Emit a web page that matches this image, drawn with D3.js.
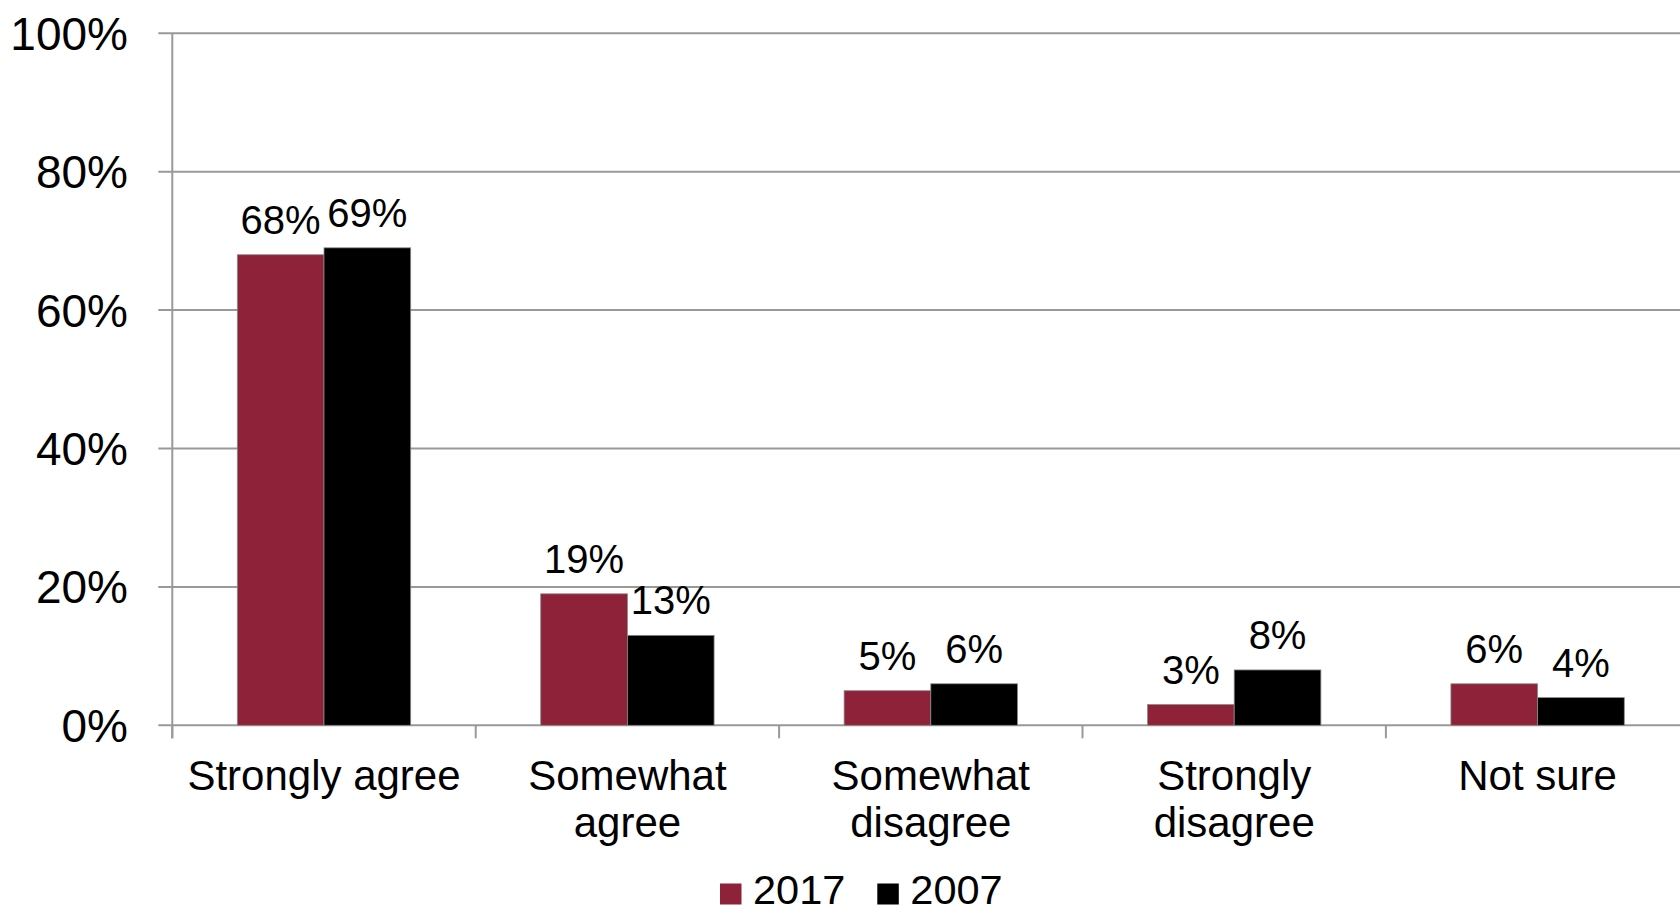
<!DOCTYPE html>
<html>
<head>
<meta charset="utf-8">
<script src="https://cdn.jsdelivr.net/npm/d3@7"></script>
<style>
  html, body { margin: 0; padding: 0; background: #fff; overflow: hidden; }
  svg { display: block; font-family: "Liberation Sans", Arial, sans-serif; }
</style>
</head>
<body>
<svg id="chart" width="1680" height="913"></svg>
<script>
// Survey responses, share of respondents per answer
const categories = [
  ["Strongly agree"],
  ["Somewhat", "agree"],
  ["Somewhat", "disagree"],
  ["Strongly", "disagree"],
  ["Not sure"]
];
const seriesNames = ["2017", "2007"];
const values2017 = [68, 19, 5, 3, 6];
const values2007 = [69, 13, 6, 8, 4];
const yTicks = [0, 20, 40, 60, 80, 100];
const seriesColors = ["#8E2239", "#000000"];

const svg = d3.select("#chart");
const plotLeft = 172.3, plotTop = 33.3, plotBottom = 725.3;
const step = 303.4;
const catKeys = categories.map(c => c.join(" "));

const x0 = d3.scaleBand().domain(catKeys).range([plotLeft, plotLeft + step * catKeys.length])
  .paddingInner(0).paddingOuter(0);
const x1 = d3.scaleBand().domain(seriesNames).range([0, x0.bandwidth()])
  .paddingInner(0).paddingOuter(0.75);
const y = d3.scaleLinear().domain([0, 100]).range([plotBottom, plotTop]);

const gridColor = "#999999";

// horizontal gridlines
svg.append("g").selectAll("line").data(yTicks).join("line")
  .attr("x1", plotLeft - 14).attr("x2", 1680)
  .attr("y1", d => y(d)).attr("y2", d => y(d))
  .attr("stroke", gridColor).attr("stroke-width", 2);

// y axis line
svg.append("line")
  .attr("x1", plotLeft).attr("x2", plotLeft)
  .attr("y1", y(100)).attr("y2", plotBottom + 13)
  .attr("stroke", gridColor).attr("stroke-width", 2);

// category boundary ticks
const boundaries = catKeys.map(k => x0(k)).concat([x0.range()[1]]);
svg.append("g").selectAll("line").data(boundaries).join("line")
  .attr("x1", d => d).attr("x2", d => d)
  .attr("y1", plotBottom).attr("y2", plotBottom + 13)
  .attr("stroke", gridColor).attr("stroke-width", 2);

// y tick labels
svg.append("g").selectAll("text").data(yTicks).join("text")
  .attr("x", 128).attr("y", d => y(d) + 16.5)
  .attr("text-anchor", "end")
  .attr("font-size", 46).attr("fill", "#000")
  .text(d => d + "%");

// bars
const rows = catKeys.map((k, i) => ({ key: k, vals: [values2017[i], values2007[i]] }));
const groups = svg.append("g").selectAll("g").data(rows).join("g")
  .attr("transform", d => `translate(${x0(d.key)},0)`);

groups.selectAll("rect").data(d => d.vals.map((v, j) => ({ s: seriesNames[j], v, j }))).join("rect")
  .attr("x", d => x1(d.s))
  .attr("y", d => y(d.v))
  .attr("width", x1.bandwidth())
  .attr("height", d => plotBottom - y(d.v))
  .attr("fill", d => seriesColors[d.j])
  .attr("stroke", "#8a8a8a").attr("stroke-width", 0.8);

// value labels
groups.selectAll("text").data(d => d.vals.map((v, j) => ({ s: seriesNames[j], v }))).join("text")
  .attr("x", d => x1(d.s) + x1.bandwidth() / 2)
  .attr("y", d => y(d.v) - 21)
  .attr("text-anchor", "middle")
  .attr("font-size", 40).attr("fill", "#000")
  .text(d => d.v + "%");

// category labels
const catLabels = svg.append("g").selectAll("text").data(categories).join("text")
  .attr("x", (d, i) => x0(catKeys[i]) + x0.bandwidth() / 2)
  .attr("y", 790)
  .attr("text-anchor", "middle")
  .attr("font-size", 42).attr("fill", "#000");
catLabels.selectAll("tspan").data(d => d).join("tspan")
  .attr("x", function () { return d3.select(this.parentNode).attr("x"); })
  .attr("dy", (d, i) => i === 0 ? 0 : 47)
  .text(d => d);

// legend
const legendX = [720, 877.3];
const legend = svg.append("g").selectAll("g").data(seriesNames).join("g")
  .attr("transform", (d, i) => `translate(${legendX[i]},0)`);
legend.append("rect")
  .attr("x", 0).attr("y", 883.5).attr("width", 21.5).attr("height", 21)
  .attr("fill", (d, i) => seriesColors[i]);
legend.append("text")
  .attr("x", 33).attr("y", 903.5)
  .attr("font-size", 41.5).attr("fill", "#000")
  .text(d => d);
</script>
</body>
</html>
